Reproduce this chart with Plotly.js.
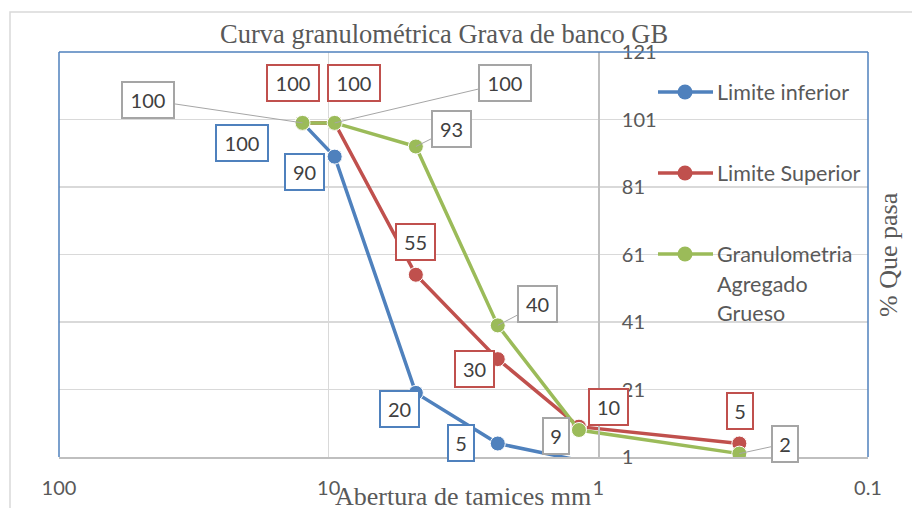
<!DOCTYPE html>
<html>
<head>
<meta charset="utf-8">
<script src="https://cdn.plot.ly/plotly-3.0.1.min.js"></script>
<style>
  html, body { margin: 0; padding: 0; background: #ffffff; }
  #chart { width: 912px; height: 508px; }
</style>
</head>
<body>
<div id="chart"></div>
<script>
// ---- Data ----
var sieveSizes = [12.5, 9.5, 4.75, 2.36, 1.18, 0.3];      // mm
var limiteInferior = [100, 90, 20, 5, 0];
var limiteSuperior = [100, 100, 55, 30, 10, 5];
var granulometria = [100, 100, 93, 40, 9, 2];
var seriesNames = ['Limite inferior', 'Limite Superior', 'Granulometria<br>Agregado<br>Grueso'];
var xTickVals = [100, 10, 1, 0.1];
var xTickText = ['100', '10', '1', '0.1'];
var chartTitle = 'Curva granulométrica Grava de banco GB';
var xTitle = 'Abertura de tamices mm';
var yTitle = '% Que pasa';

// ---- Styles / layout helpers (not data) ----
var colors = ['#4f81bd', '#c0504d', '#9bbb59'];
var labelBorders = ['#4f81bd', '#c0504d', '#a5a5a5'];
var leaderColor = '#a6a6a6';
var sansFont = 'Lato, "Open Sans", sans-serif';
var serifFont = '"Liberation Serif", "Times New Roman", serif';
var W = 912, H = 508;
var M = {l: 59, r: 44, t: 52, b: 51};
var PW = W - M.l - M.r, PH = H - M.t - M.b;
function px2paperX(px) { return (px - M.l) / PW; }
function px2paperY(py) { return (H - M.b - py) / PH; }

// label offsets (pixels, screen direction) of label box centres from points
var labelOffsets = [
  [[-61, 20], [-30, 15], [-16, 16], [-37, -1], null],
  [[-10, -40], [19, -40], [0, -33], [-23, 10], [30, -20], [1, -33]],
  [[-155, -23], [170, -40], [36, -18], [40, -21], [-23, 6], [46, -10]]
];
var leaderLines = [
  [false, false, false, false, false],
  [false, false, false, false, false, false],
  [true, true, true, true, false, true]
];

var seriesValues = [limiteInferior, limiteSuperior, granulometria];

var traces = seriesValues.map(function (vals, i) {
  var xs = sieveSizes.slice(0, vals.length);
  return {
    type: 'scatter',
    mode: 'lines+markers',
    name: seriesNames[i].replace(/<br>/g, ' '),
    x: xs,
    y: vals,
    line: {color: colors[i], width: 3.5},
    marker: {
      color: colors[i],
      opacity: 1,
      size: vals.map(function (v) { return v < 1 ? 0 : 15; })
    },
    cliponaxis: true,
    showlegend: false,
    hoverinfo: 'x+y'
  };
});

var annotations = [];
seriesValues.forEach(function (vals, i) {
  vals.forEach(function (v, j) {
    var off = labelOffsets[i][j];
    if (!off) return;
    var txt = String(v);
    var a = {
      x: Math.log10(sieveSizes[j]),
      y: v,
      xref: 'x', yref: 'y',
      text: txt,
      font: {family: sansFont, size: 20, color: '#404040'},
      bordercolor: labelBorders[i],
      borderwidth: 2,
      borderpad: 2,
      bgcolor: '#ffffff',
      width: 7 + 13 * txt.length,
      height: 30,
      align: 'center',
      valign: 'middle'
    };
    if (leaderLines[i][j]) {
      a.showarrow = true;
      a.arrowhead = 0;
      a.arrowwidth = 1;
      a.arrowcolor = leaderColor;
      a.standoff = 0;
      a.ax = off[0];
      a.ay = off[1];
    } else {
      a.showarrow = false;
      a.xshift = off[0];
      a.yshift = -off[1];
    }
    annotations.push(a);
  });
});

// titles
annotations.push({
  xref: 'paper', yref: 'paper', x: px2paperX(444), y: px2paperY(34),
  text: chartTitle, showarrow: false, xanchor: 'center', yanchor: 'middle',
  font: {family: serifFont, size: 26.5, color: '#595959'}
});
annotations.push({
  xref: 'paper', yref: 'paper', x: px2paperX(463), y: px2paperY(496),
  text: xTitle, showarrow: false, xanchor: 'center', yanchor: 'middle',
  font: {family: serifFont, size: 26, color: '#595959'}
});
annotations.push({
  xref: 'paper', yref: 'paper', x: px2paperX(888), y: px2paperY(255),
  text: yTitle, showarrow: false, xanchor: 'center', yanchor: 'middle', textangle: -90,
  font: {family: serifFont, size: 26, color: '#595959'}
});

// legend (drawn from series names & colours)
var shapes = [];
var legendY = [92, 173, 254];
var legendLineGap = 29.5;
seriesNames.forEach(function (nm, i) {
  var yy = legendY[i];
  shapes.push({
    type: 'line', xref: 'paper', yref: 'paper',
    x0: px2paperX(658), x1: px2paperX(713), y0: px2paperY(yy), y1: px2paperY(yy),
    line: {color: colors[i], width: 3.5}, layer: 'above'
  });
  shapes.push({
    type: 'circle', xref: 'paper', yref: 'paper',
    xsizemode: 'pixel', ysizemode: 'pixel',
    xanchor: px2paperX(685), yanchor: px2paperY(yy),
    x0: -7.5, x1: 7.5, y0: -7.5, y1: 7.5,
    fillcolor: colors[i], line: {width: 0}, layer: 'above'
  });
  nm.split('<br>').forEach(function (part, k) {
    annotations.push({
      xref: 'paper', yref: 'paper',
      x: px2paperX(715), y: px2paperY(yy + k * legendLineGap),
      text: part, showarrow: false, xanchor: 'left', yanchor: 'middle',
      font: {family: sansFont, size: 21.5, color: '#595959'}
    });
  });
});

// plot-area border (blue) and chart border (grey)
shapes.push({type: 'rect', xref: 'paper', yref: 'paper',
  x0: px2paperX(10), x1: px2paperX(940), y0: px2paperY(540), y1: px2paperY(12),
  line: {color: '#d9d9d9', width: 1.5}, layer: 'below'});
shapes.push({type: 'line', xref: 'paper', yref: 'paper', x0: 0, x1: 0, y0: 0, y1: 1,
  line: {color: '#4f81bd', width: 1.5}, layer: 'above'});
shapes.push({type: 'line', xref: 'paper', yref: 'paper', x0: 0, x1: 1, y0: 1, y1: 1,
  line: {color: '#4f81bd', width: 1.5}, layer: 'above'});
shapes.push({type: 'line', xref: 'paper', yref: 'paper', x0: 1, x1: 1, y0: 0, y1: 1,
  line: {color: '#4f81bd', width: 1.5}, layer: 'above'});

var layout = {
  width: W, height: H,
  margin: M,
  paper_bgcolor: '#ffffff',
  plot_bgcolor: 'rgba(0,0,0,0)',
  showlegend: false,
  xaxis: {
    type: 'log',
    range: [2, -1],
    tickvals: xTickVals,
    ticktext: xTickText,
    showgrid: true,
    gridcolor: '#d9d9d9',
    gridwidth: 1.5,
    showline: true,
    linecolor: '#bfbfbf',
    linewidth: 1.5,
    zeroline: false,
    ticks: 'outside',
    ticklen: 12,
    tickcolor: 'rgba(0,0,0,0)',
    tickfont: {family: sansFont, size: 20, color: '#595959'}
  },
  yaxis: {
    range: [1, 121],
    tick0: 1,
    dtick: 20,
    side: 'right',
    anchor: 'free',
    position: 2 / 3,
    showgrid: true,
    gridcolor: '#d9d9d9',
    gridwidth: 1.5,
    showline: true,
    linecolor: '#bfbfbf',
    linewidth: 1.5,
    zeroline: false,
    ticks: 'outside',
    ticklen: 18,
    tickcolor: 'rgba(0,0,0,0)',
    tickfont: {family: sansFont, size: 20, color: '#595959'}
  },
  annotations: annotations,
  shapes: shapes
};

Plotly.newPlot('chart', traces, layout, {displayModeBar: false, staticPlot: true});
</script>
</body>
</html>
